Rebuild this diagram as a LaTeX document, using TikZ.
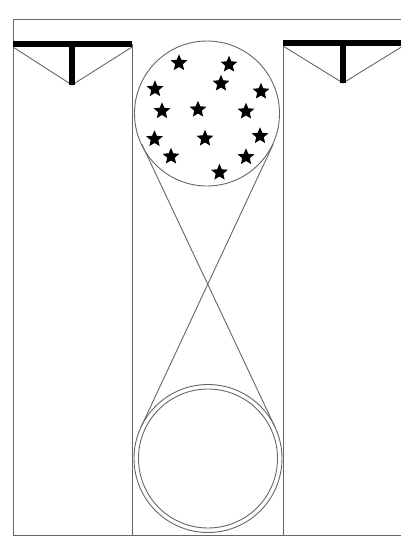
\documentclass[tikz,border=0pt]{standalone}
\usetikzlibrary{shapes.geometric}
\begin{document}
\begin{tikzpicture}[x=1pt,y=-1pt,
  thinline/.style={draw=black!60,line width=0.9pt},
  bar/.style={draw=black,line width=5.5pt},
  starmark/.style={star,star points=5,star point ratio=2.2,fill=black,draw=none,minimum size=17.5pt,inner sep=0pt}]
\useasboundingbox (0,0) rectangle (400,536);
% frame and columns
\draw[thinline] (402,19) -- (13,19) -- (13,535) -- (402,535);
\draw[thinline] (132,44) -- (132,535);
\draw[thinline] (283,43) -- (283,535);
% left T
\draw[thinline] (13,47) -- (72,85) -- (132,47);
\draw[bar] (13,44) -- (132,44);
\draw[bar] (72,44) -- (72,85);
% right T
\draw[thinline] (283,46) -- (343,83) -- (403,46);
\draw[bar] (283,43) -- (402,43);
\draw[bar] (343,43) -- (343,83);
% circles
\node[circle,thinline,minimum size=145pt,inner sep=0pt] (top) at (207,113.5) {};
\node[circle,thinline,minimum size=148pt,inner sep=0pt] (bottomout) at (208,458.5) {};
\node[circle,thinline,minimum size=139pt,inner sep=0pt] (bottomin) at (208,458.5) {};
% crossing tangents
\coordinate (t1) at (141.8,144.2);
\coordinate (t2) at (273.2,144.2);
\coordinate (b1) at (275.0,427.1);
\coordinate (b2) at (141.0,427.1);
\draw[thinline] (t1) -- (b1);
\draw[thinline] (t2) -- (b2);
% stars
\foreach \i/\x/\y in {1/179/63,2/229/64.5,3/221/83.5,4/155/89,5/261/91.5,6/162/111,7/198/109.5,8/246/111.5,9/154.5/139,10/205/138.5,11/260/136,12/171/156.5,13/246/157,14/219.5/172.5}
  \node[starmark] (s\i) at (\x,\y) {};
\end{tikzpicture}
\end{document}
